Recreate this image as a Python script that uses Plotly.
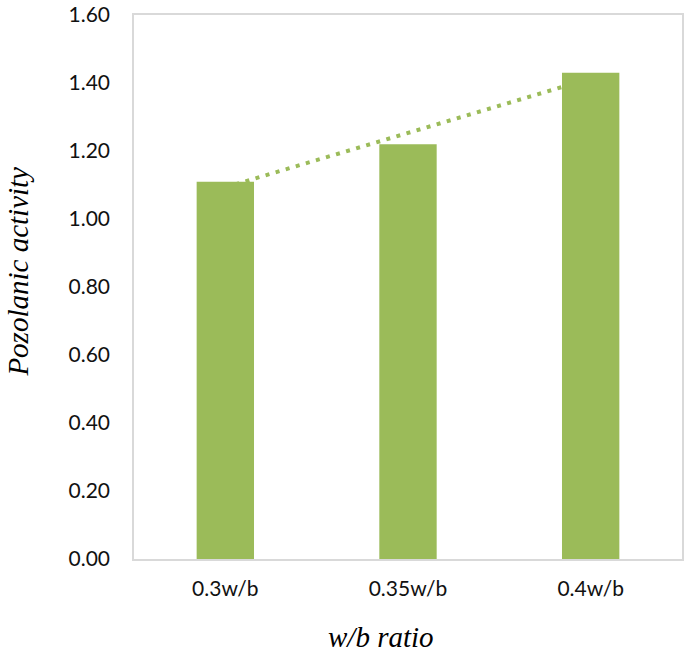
import numpy as np
import plotly.graph_objects as go

categories = ["0.3w/b", "0.35w/b", "0.4w/b"]
pozolanic_activity = [1.11, 1.22, 1.43]
y_tick_values = [0.0, 0.2, 0.4, 0.6, 0.8, 1.0, 1.2, 1.4, 1.6]
y_tick_labels = ["0.00", "0.20", "0.40", "0.60", "0.80", "1.00", "1.20", "1.40", "1.60"]

GREEN = "#9BBB59"
GRID = "#D9D9D9"

# Linear trendline (as Excel computes it) through category index 1..n
idx = np.arange(1, len(categories) + 1)
slope, intercept = np.polyfit(idx, pozolanic_activity, 1)
trend = list(slope * idx + intercept)

fig = go.Figure()

# trendline on base axes (drawn beneath the bars)
fig.add_trace(go.Scatter(
    x=categories, y=trend, mode="lines",
    line=dict(color=GREEN, width=4, dash="4px,6.5px"),
    xaxis="x", yaxis="y", showlegend=False, hoverinfo="skip",
))

# bars on overlaying axes (drawn on top)
fig.add_trace(go.Bar(
    x=categories, y=pozolanic_activity, marker=dict(color=GREEN, line=dict(width=0)),
    width=0.314, xaxis="x2", yaxis="y2", showlegend=False,
))

tick_font = dict(family="Lato, Carlito, Calibri, sans-serif", size=21, color="#111111")
YMAX = 1.6002

fig.update_layout(
    width=685, height=653,
    margin=dict(l=134, r=1, t=13, b=94),
    paper_bgcolor="white", plot_bgcolor="white",
    xaxis=dict(
        type="category", categoryarray=categories, categoryorder="array",
        range=[-0.5, 2.5], showgrid=False, zeroline=False,
        showline=True, linecolor=GRID, linewidth=1.5, mirror=True,
        ticks="", tickfont=tick_font, ticklabelstandoff=10,
    ),
    yaxis=dict(
        range=[0, YMAX], tickvals=y_tick_values, ticktext=y_tick_labels,
        showgrid=False, zeroline=False,
        showline=True, linecolor=GRID, linewidth=1.5, mirror=True,
        ticks="", tickfont=tick_font, ticklabelstandoff=18,
        ticklabeloverflow="allow",
    ),
    xaxis2=dict(
        type="category", categoryarray=categories, categoryorder="array",
        range=[-0.5, 2.5], overlaying="x", visible=False,
    ),
    yaxis2=dict(range=[0, YMAX], overlaying="y", visible=False),
    annotations=[
        dict(text="w/b ratio", xref="paper", yref="paper", x=0.451, y=-0.1429,
             xanchor="center", yanchor="middle", showarrow=False,
             font=dict(family="Liberation Serif, Times New Roman, serif", size=29,
                       color="#000000", style="italic"),
             ),
        dict(text="Pozolanic activity", xref="paper", yref="paper", x=-0.211, y=0.529,
             xanchor="center", yanchor="middle", showarrow=False, textangle=-90,
             font=dict(family="Liberation Serif, Times New Roman, serif", size=29,
                       color="#000000", style="italic"),
             ),
    ],
)

fig.write_html(
    "out.html",
    config={"displayModeBar": False},
    post_script="document.body.style.margin='0';document.body.style.padding='0';",
)
